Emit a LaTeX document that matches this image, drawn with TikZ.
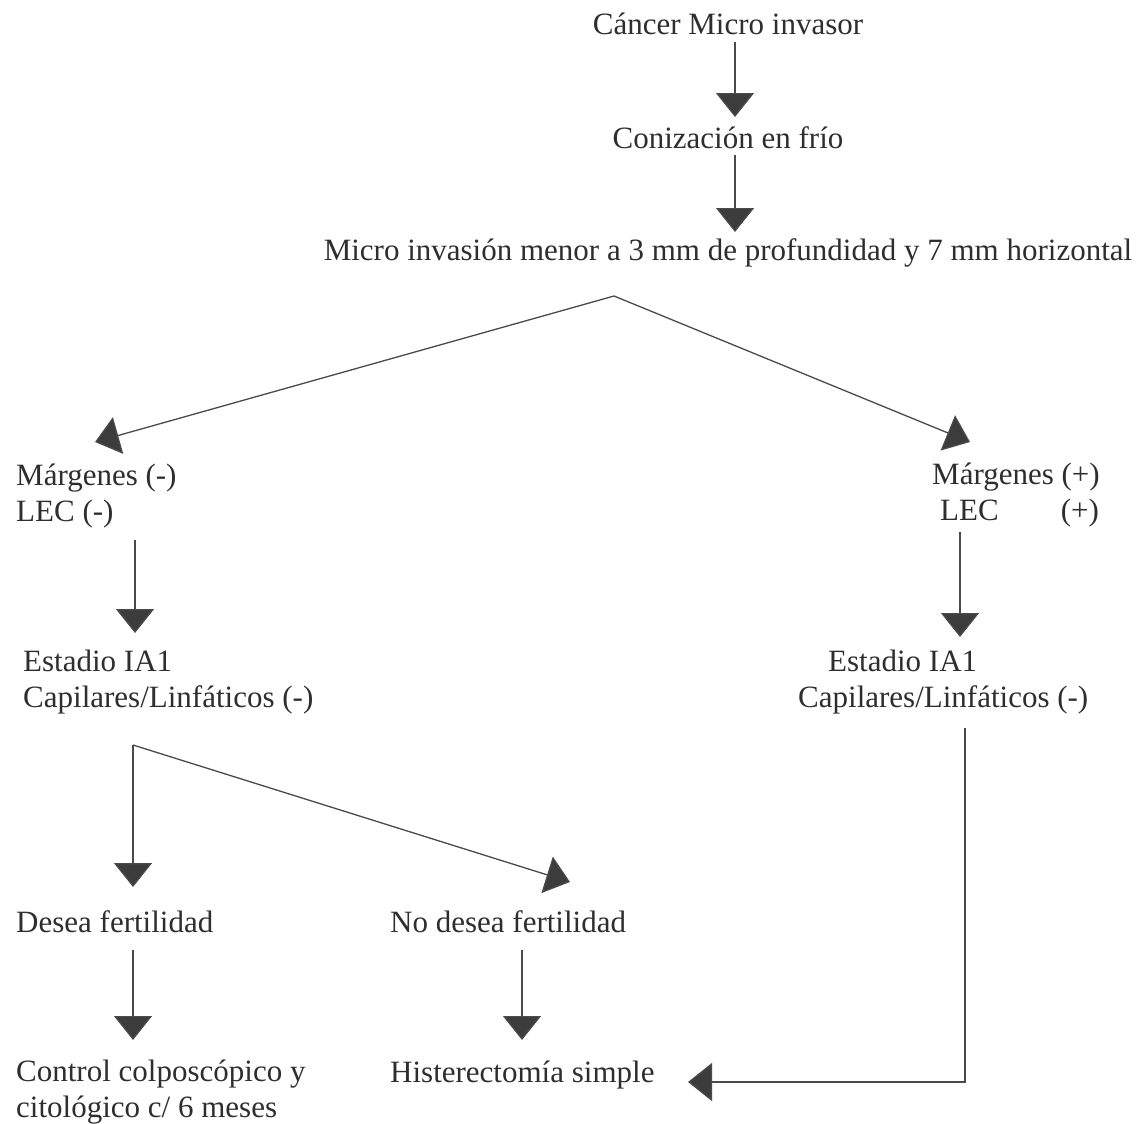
\documentclass[tikz,border=0pt]{standalone}
\usepackage{fontspec}
\setmainfont{Liberation Serif}
\usetikzlibrary{arrows.meta}
\definecolor{ink}{HTML}{2E2E2E}
\definecolor{wire}{HTML}{4A4A4A}
\definecolor{head}{HTML}{3C3C3C}
\tikzset{
  lbl/.style={inner sep=0pt, text=ink, font=\fontsize{31}{36}\selectfont, align=left, anchor=base west},
  lblc/.style={lbl, anchor=base},
  arr/.style={draw=wire, line width=1.3pt, -{Triangle[width=38pt,length=24pt,fill=head]}}
}
\begin{document}
\begin{tikzpicture}[x=1pt,y=-1pt]
\useasboundingbox (0,0) rectangle (1146,1124);
% labels (multi-line labels sit on the baseline of their last line)
\node[lblc] (cancer) at (728,35) {Cáncer Micro invasor};
\node[lblc] (coniz) at (728,148) {Conización en frío};
\node[lblc] (micro) at (728,260) {Micro invasión menor a 3 mm de profundidad y 7 mm horizontal};
\node[lbl] (margneg) at (16,521) {Márgenes (-)\\LEC (-)};
\node[lbl] (margpos) at (932,520) {Márgenes (+)\\\hspace*{8pt}LEC\hspace*{62pt}(+)};
\node[lbl] (estneg) at (23,707) {Estadio IA1\\Capilares/Linfáticos (-)};
\node[lbl] (estpos) at (798,707) {\hspace*{30pt}Estadio IA1\\Capilares/Linfáticos (-)};
\node[lbl] (desea) at (16,932) {Desea fertilidad};
\node[lbl] (nodesea) at (390,932) {No desea fertilidad};
\node[lbl] (control) at (16,1117) {Control colposcópico y\\citológico c/ 6 meses};
\node[lbl] (hister) at (390,1082) {Histerectomía simple};
% connector end points
\coordinate (cancer-out) at (735,42);
\coordinate (coniz-in) at (735,117);
\coordinate (coniz-out) at (735,155);
\coordinate (micro-in) at (735,232);
\coordinate (micro-fork) at (614,296);
\coordinate (margneg-in) at (95,442);
\coordinate (margpos-in) at (970,442);
\coordinate (margneg-out) at (135,540);
\coordinate (estneg-in) at (135,633);
\coordinate (margpos-out) at (960,532);
\coordinate (estpos-in) at (960,637);
\coordinate (estneg-fork) at (133,745);
\coordinate (desea-in) at (133,887);
\coordinate (nodesea-in) at (570,882);
\coordinate (desea-out) at (133,950);
\coordinate (control-in) at (133,1040);
\coordinate (nodesea-out) at (522,950);
\coordinate (hister-in) at (522,1040);
\coordinate (estpos-out) at (965,728);
\coordinate (estpos-turn) at (965,1082);
\coordinate (hister-side) at (688,1082);
% connectors
\draw[arr] (cancer-out) -- (coniz-in);
\draw[arr] (coniz-out) -- (micro-in);
\draw[arr] (micro-fork) -- (margneg-in);
\draw[arr] (micro-fork) -- (margpos-in);
\draw[arr] (margneg-out) -- (estneg-in);
\draw[arr] (margpos-out) -- (estpos-in);
\draw[arr] (estneg-fork) -- (desea-in);
\draw[arr] (estneg-fork) -- (nodesea-in);
\draw[arr] (desea-out) -- (control-in);
\draw[arr] (nodesea-out) -- (hister-in);
\draw[arr] (estpos-out) -- (estpos-turn) -- (hister-side);
\end{tikzpicture}
\end{document}
